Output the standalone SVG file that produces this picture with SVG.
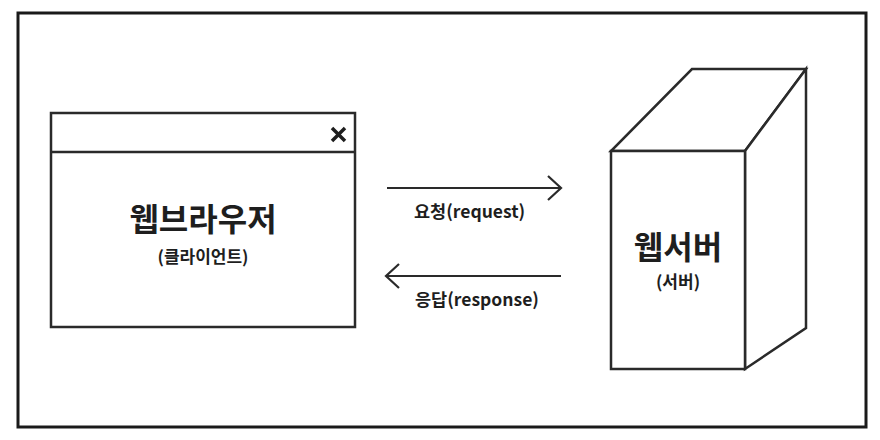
<svg xmlns="http://www.w3.org/2000/svg" width="880" height="440" viewBox="0 0 880 440">
<style>
.ln{fill:#fff;stroke:#2a2a2a;stroke-width:2.5;stroke-linejoin:miter}
.ar{fill:none;stroke:#2a2a2a;stroke-width:2.2}
.t{font-family:"Noto Sans CJK KR","Noto Sans",sans-serif;font-weight:bold;fill:#1e1e1e}
.big{font-size:32px}
.sm{font-size:17px}
.lb{font-size:17.5px}
</style>
<rect x="0" y="0" width="880" height="440" fill="#fff"/>
<rect x="18" y="13" width="848" height="414" fill="#fff" stroke="#1a1a1a" stroke-width="3"/>
<g id="browser">
<rect class="ln" x="51" y="113" width="304" height="214"/>
<line class="ln" x1="51" y1="152" x2="355" y2="152"/>
<path d="M332 128 L345 141 M345 128 L332 141" stroke="#1e1e1e" stroke-width="3.5" fill="none"/>
<text class="t big" x="203" y="231" text-anchor="middle">웹브라우저</text>
<text class="t sm" x="203" y="263" text-anchor="middle">(클라이언트)</text>
</g>
<g id="server">
<polygon class="ln" points="611,151 745,151 806,69 692,69"/>
<polygon class="ln" points="745,151 806,69 806,328 745,369"/>
<rect class="ln" x="611" y="151" width="134" height="218"/>
<text class="t big" x="678" y="259" text-anchor="middle">웹서버</text>
<text class="t sm" x="678" y="288" text-anchor="middle">(서버)</text>
</g>
<g id="connectors">
<path class="ar" d="M387 188 L561 188 M548 176 L561 188 L548 200"/>
<text class="t lb" x="414" y="218">요청(request)</text>
<path class="ar" d="M386 276 L561 276 M399 264 L386 276 L399 288"/>
<text class="t lb" x="415" y="306">응답(response)</text>
</g>
</svg>
